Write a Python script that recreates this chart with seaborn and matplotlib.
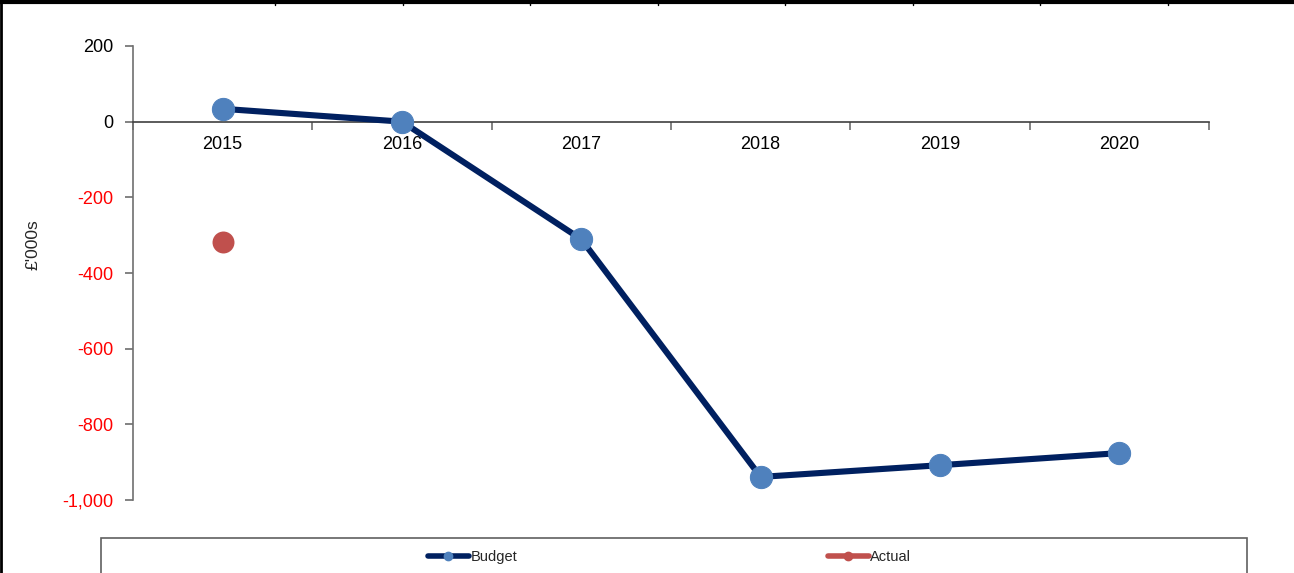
import matplotlib
matplotlib.use("Agg")
import matplotlib.pyplot as plt
from matplotlib.lines import Line2D
from matplotlib.patches import Rectangle
import numpy as np
import pandas as pd
import seaborn as sns

# Data (£'000s)
years = ["2015", "2016", "2017", "2018", "2019", "2020"]
budget = [34, 0, -311, -939, -908, -876]
actual_years = ["2015"]
actual = [-319]
y_ticks = [200, 0, -200, -400, -600, -800, -1000]

NAVY = "#002060"
BLUE = "#4F81BD"
RED = "#C0504D"

sns.set_theme(style="white")
plt.rcParams["font.family"] = ["Liberation Sans", "DejaVu Sans"]

fig = plt.figure(figsize=(12.94, 5.73), dpi=100)
ax = fig.add_axes([133 / 1294, 1 - 500 / 573, (1209 - 133) / 1294, (500 - 46) / 573])

pos = {y: i for i, y in enumerate(years)}
df_b = pd.DataFrame({"x": [pos[y] for y in years], "value": budget})
df_a = pd.DataFrame({"x": [pos[y] for y in actual_years], "value": actual})

sns.lineplot(data=df_b, x="x", y="value", ax=ax, color=NAVY, linewidth=4.4,
             marker="o", markersize=16, markerfacecolor=BLUE,
             markeredgecolor=BLUE, zorder=3)
sns.scatterplot(data=df_a, x="x", y="value", ax=ax, color=RED, s=250,
                edgecolor=RED, linewidth=0, zorder=4)

ax.set_xlim(-0.5, len(years) - 0.5)
ax.set_ylim(-1000, 200)

# Category axis drawn across zero
for s in ["top", "right"]:
    ax.spines[s].set_visible(False)
ax.spines["bottom"].set_position(("data", 0))
ax.spines["bottom"].set_color("#404040")
ax.spines["bottom"].set_linewidth(1.2)
ax.spines["left"].set_color("#707070")
ax.spines["left"].set_linewidth(1.2)

ax.set_xticks(np.arange(-0.5, len(years), 1.0))
ax.set_xticklabels([])
ax.set_xticks(np.arange(len(years)), minor=True)
ax.set_xticklabels(years, minor=True, fontsize=13, color="#000000")
ax.tick_params(axis="x", which="major", direction="out", length=6,
               width=1.1, color="#606060", bottom=True)
ax.tick_params(axis="x", which="minor", length=0, pad=10, bottom=True)

ax.set_yticks(y_ticks)
ax.set_yticklabels([f"{v:,}" for v in y_ticks], fontsize=13)
for lbl, v in zip(ax.get_yticklabels(), y_ticks):
    lbl.set_color("#FF0000" if v < 0 else "#000000")
ax.tick_params(axis="y", direction="out", length=6, width=1.1,
               color="#606060", pad=8, left=True)

ax.set_xlabel("")
ax.set_ylabel("")
fig.text(33 / 1294, 1 - 245 / 573, "£'000s", rotation=90, fontsize=12.5,
         ha="center", va="center")

# Legend box
fig.patches.append(Rectangle((101 / 1294, -0.05), (1247 - 101) / 1294,
                             1 - 538 / 573 + 0.05, transform=fig.transFigure,
                             facecolor="white", edgecolor="#606060",
                             linewidth=1.2, zorder=1))
h_b = Line2D([], [], color=NAVY, linewidth=4, marker="o", markersize=6,
             markerfacecolor=BLUE, markeredgecolor=BLUE)
h_a = Line2D([], [], color=RED, linewidth=4, marker="o", markersize=6,
             markerfacecolor=RED, markeredgecolor=RED)
for h, lab, xl in [(h_b, "Budget", 428), (h_a, "Actual", 828)]:
    fig.legend(handles=[h], labels=[lab], loc="center left",
               bbox_to_anchor=(xl / 1294, 1 - 557 / 573), frameon=False,
               fontsize=10.5, handlelength=2.8, handletextpad=0.1,
               borderpad=0, borderaxespad=0)

# Sheet borders framing the chart
fig.add_artist(Line2D([0.001, 0.001], [0, 1], transform=fig.transFigure,
                      color="black", linewidth=2))
fig.add_artist(Line2D([0, 1], [0.997, 0.997], transform=fig.transFigure,
                      color="black", linewidth=3))
for xd in [275, 403, 530, 658, 785, 913, 1040, 1168]:
    fig.add_artist(Line2D([xd / 1294] * 2, [1 - 5 / 573, 1],
                          transform=fig.transFigure, color="black",
                          linewidth=1))

fig.savefig("out.png", dpi=100)
